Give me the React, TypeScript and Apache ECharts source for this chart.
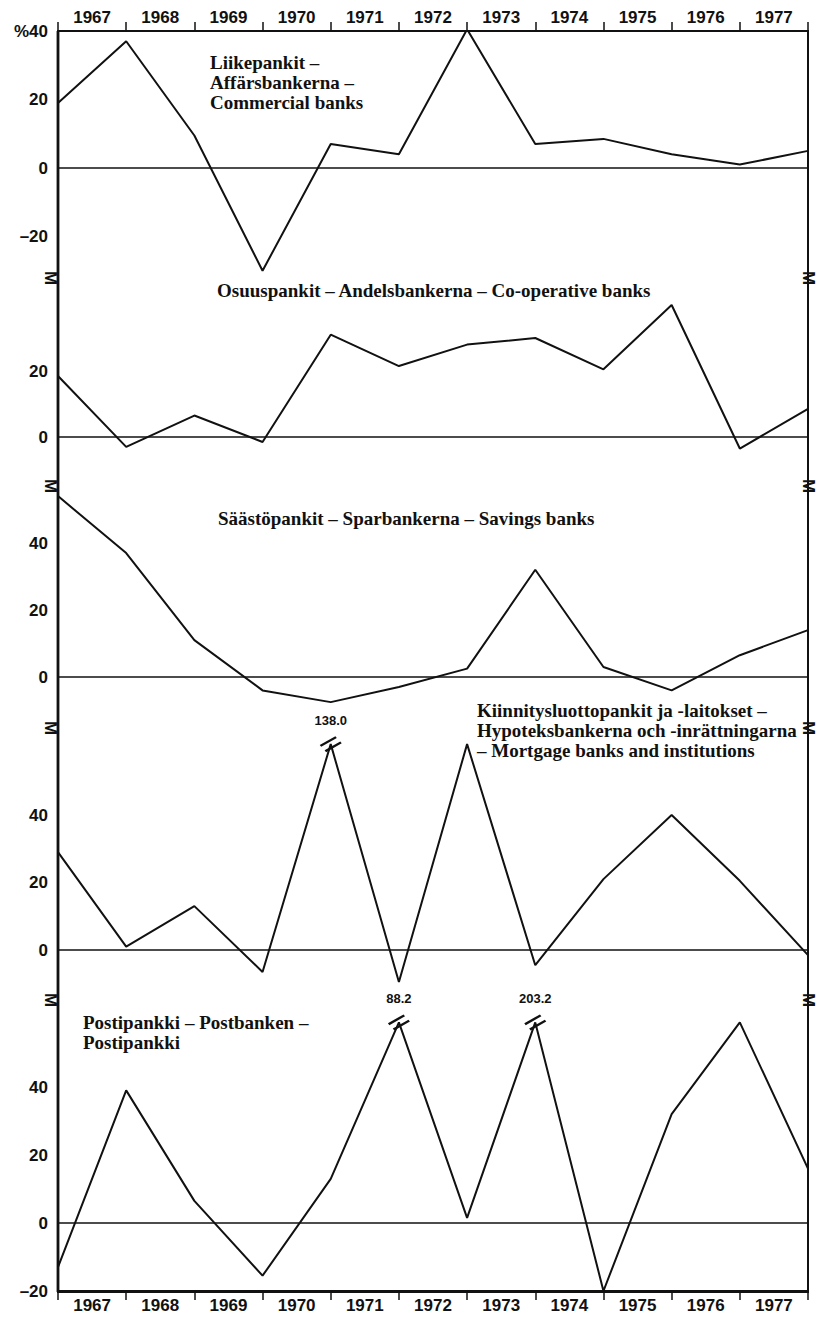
import React, { useEffect, useRef } from 'react';
import * as echarts from 'echarts';

// ---- data ----
const years = ['1967', '1968', '1969', '1970', '1971', '1972', '1973', '1974', '1975', '1976', '1977'];
// values at the year boundaries (end 1966 ... end 1977), % change
const commercial = [19, 37, 9.5, -30, 7, 4, 40.5, 7, 8.5, 4, 1, 5];
const cooperative = [18.5, -3, 6.5, -1.5, 31, 21.5, 28, 30, 20.5, 40, -3.5, 8.5];
const savings = [54, 37, 11, -4, -7.5, -3, 2.5, 32, 3, -4, 6.5, 14];
const mortgage = [29, 1, 13, -6.5, 138.0, -9.5, 61, -4.5, 21, 40, 20.5, -1.5];
const postal = [-13, 39, 6.5, -15.5, 13, 88.2, 1.5, 203.2, -20, 32, 59, 16];

const labelsCommercial = [40, 20, 0, -20];
const labelsCooperative = [20, 0];
const labelsSavings = [40, 20, 0];
const labelsMortgage = [40, 20, 0];
const labelsPostal = [40, 20, 0, -20];

const titleCommercial = 'Liikepankit –\nAffärsbankerna –\nCommercial banks';
const titleCooperative = 'Osuuspankit – Andelsbankerna – Co-operative banks';
const titleSavings = 'Säästöpankit – Sparbankerna – Savings banks';
const titleMortgage = 'Kiinnitysluottopankit ja -laitokset –\nHypoteksbankerna och -inrättningarna\n– Mortgage banks and institutions';
const titlePostal = 'Postipankki – Postbanken –\nPostipankki';

// ---- layout / style ----
const LEFT = 58;
const RIGHT_X = 808;
const TOP = 31;
const BOTTOM = 1292;
const INK = '#111';
const LINE_H = 20;

const panels = [
  { data: commercial, labels: labelsCommercial, title: titleCommercial, zeroY: 168, ppu: 3.425, topY: TOP, min: -40, cap: Infinity, tx: 210, ty: 62 },
  { data: cooperative, labels: labelsCooperative, title: titleCooperative, zeroY: 437, ppu: 3.3, topY: 278, min: -20, cap: Infinity, tx: 217, ty: 290 },
  { data: savings, labels: labelsSavings, title: titleSavings, zeroY: 677, ppu: 3.35, topY: 486, min: -20, cap: Infinity, tx: 218, ty: 518 },
  { data: mortgage, labels: labelsMortgage, title: titleMortgage, zeroY: 950, ppu: 3.375, topY: 728, min: -20, cap: 61, tx: 477, ty: 710 },
  { data: postal, labels: labelsPostal, title: titlePostal, zeroY: 1223, ppu: 3.4, topY: 1000, min: -20, cap: 59, tx: 83, ty: 1022 },
];
const breakYs = [278, 486, 728, 1000];

const BREAK_PATH = 'path://M0,10 L16,0 L17.5,2.2 L1.5,12.2 Z M5,16 L21,6 L22.5,8.2 L6.5,18.2 Z';

function buildOption() {
  const grid: any[] = [];
  const xAxis: any[] = [];
  const yAxis: any[] = [];
  const series: any[] = [];
  const graphic: any[] = [];

  panels.forEach((p, i) => {
    const max = (p.zeroY - p.topY) / p.ppu;
    const height = (max - p.min) * p.ppu;
    grid.push({ left: LEFT, right: 817 - RIGHT_X, top: p.topY, height, containLabel: false });
    xAxis.push({ type: 'value', gridIndex: i, min: 0, max: 11, show: false });
    yAxis.push({
      type: 'value', gridIndex: i, min: p.min, max, interval: 20,
      axisLine: { show: false }, axisTick: { show: false }, splitLine: { show: false },
      axisLabel: {
        margin: 10, color: INK, fontSize: 17, fontWeight: 'bold', fontFamily: 'Liberation Sans',
        formatter: (v: number) => {
          const hit = p.labels.find((l) => Math.abs(l - v) < 1e-6);
          if (hit === undefined) return '';
          if (i === 0 && hit === 40) return '%40';
          if (hit < 0) return '–' + Math.abs(hit);
          return String(hit);
        },
      },
    });
    const breaks = p.data
      .map((v, j) => (v > p.cap ? { coord: [j, p.cap], value: v } : null))
      .filter(Boolean);
    series.push({
      type: 'line', xAxisIndex: i, yAxisIndex: i,
      data: p.data.map((v, j) => [j, Math.min(v, p.cap)]),
      symbol: 'none', lineStyle: { color: INK, width: 2 }, silent: true,
      markLine: {
        silent: true, symbol: ['none', 'none'], label: { show: false },
        lineStyle: { color: INK, width: 1.6, type: 'solid' },
        data: [{ yAxis: 0 }],
      },
      markPoint: breaks.length ? {
        silent: true, symbol: BREAK_PATH, symbolSize: [22, 16],
        itemStyle: { color: INK },
        label: {
          show: true, position: 'top', distance: 9, color: INK, fontSize: 13, fontWeight: 'bold',
          fontFamily: 'Liberation Sans', formatter: (d: any) => Number(d.value).toFixed(1),
        },
        data: breaks,
      } : undefined,
    });
    graphic.push({
      type: 'text', x: p.tx, y: p.ty - LINE_H / 2,
      style: {
        text: p.title, fill: INK, fontSize: 19, fontWeight: 'bold', fontFamily: 'Liberation Serif',
        lineHeight: LINE_H, verticalAlign: 'top', align: 'left',
      },
    });
  });

  const catCommon = {
    type: 'category', data: years, boundaryGap: true,
    axisLine: { show: true, onZero: false, lineStyle: { color: INK, width: 2 } },
    axisTick: { show: true, length: 9, lineStyle: { color: INK, width: 1.5 } },
    splitLine: { show: false },
  };
  xAxis.push({ ...catCommon, gridIndex: 0, position: 'top', axisLabel: { margin: 5, color: INK, fontSize: 17, fontWeight: 'bold', fontFamily: 'Liberation Sans' } });
  xAxis.push({ ...catCommon, gridIndex: 4, position: 'bottom', axisLabel: { margin: 6, color: INK, fontSize: 17, fontWeight: 'bold', fontFamily: 'Liberation Sans' } });

  graphic.push({
    type: 'rect', shape: { x: LEFT, y: TOP, width: RIGHT_X - LEFT, height: BOTTOM - TOP },
    style: { fill: 'none', stroke: INK, lineWidth: 2 }, silent: true,
  });
  graphic.push({
    type: 'line', shape: { x1: LEFT, y1: TOP, x2: LEFT, y2: BOTTOM },
    style: { stroke: INK, lineWidth: 2.8 }, silent: true,
  });
  breakYs.forEach((y) => {
    [LEFT - 8, RIGHT_X].forEach((x) => {
      graphic.push({
        type: 'text', x, y, rotation: -Math.PI / 2,
        style: { text: 'M', fill: INK, fontSize: 17, fontWeight: 'bold', fontFamily: 'Liberation Sans', align: 'center', verticalAlign: 'middle' },
      });
    });
  });

  return { animation: false, backgroundColor: '#fff', grid, xAxis, yAxis, series, graphic };
}

export default function App() {
  const ref = useRef<HTMLDivElement>(null);
  useEffect(() => {
    if (!ref.current) return;
    const chart = echarts.init(ref.current, undefined, { renderer: 'svg' });
    chart.setOption(buildOption() as any);
    return () => chart.dispose();
  }, []);
  return <div ref={ref} style={{ position: 'absolute', left: 0, top: 0, width: 817, height: 1320, background: '#fff' }} />;
}
